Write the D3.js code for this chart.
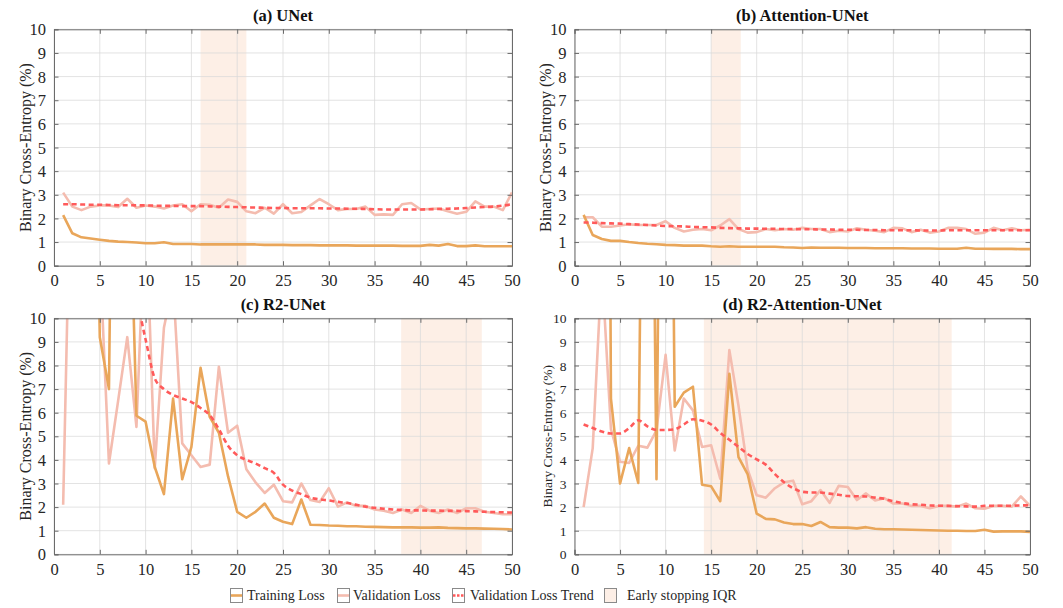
<!DOCTYPE html>
<html><head><meta charset="utf-8">
<script src="https://cdn.jsdelivr.net/npm/d3@7"></script>
<style>html,body{margin:0;padding:0;background:#fff;}svg{display:block;} svg text{font-family:'Liberation Serif','Times New Roman',Times,'DejaVu Serif',serif !important;}</style>
</head><body>
<svg id="chart" width="1063" height="608"></svg>
<script>
const epochs = d3.range(1, 51);
const xTicks = [0,5,10,15,20,25,30,35,40,45,50];
const yTicks = [0,1,2,3,4,5,6,7,8,9,10];
const titles = ["(a) UNet", "(b) Attention-UNet", "(c) R2-UNet", "(d) R2-Attention-UNet"];
const legendLabels = ["Training Loss", "Validation Loss", "Validation Loss Trend", "Early stopping IQR"];

const trainA = [2.14,1.37,1.2,1.15,1.1,1.05,1.02,1.0,0.98,0.95,0.95,0.99,0.92,0.92,0.92,0.9,0.9,0.9,0.9,0.9,0.9,0.9,0.88,0.88,0.88,0.87,0.87,0.87,0.86,0.86,0.86,0.86,0.85,0.85,0.85,0.85,0.85,0.84,0.84,0.84,0.88,0.85,0.92,0.83,0.83,0.86,0.82,0.82,0.82,0.82];
const valA = [3.09,2.5,2.35,2.5,2.55,2.55,2.48,2.83,2.45,2.55,2.5,2.42,2.55,2.6,2.3,2.6,2.58,2.45,2.8,2.7,2.3,2.22,2.45,2.2,2.6,2.22,2.27,2.55,2.82,2.6,2.35,2.4,2.4,2.5,2.15,2.17,2.15,2.6,2.65,2.38,2.4,2.42,2.3,2.2,2.28,2.72,2.5,2.5,2.35,3.1];
const trendA = [2.6,2.6,2.59,2.58,2.58,2.57,2.56,2.56,2.55,2.55,2.54,2.53,2.53,2.52,2.52,2.52,2.51,2.5,2.49,2.48,2.47,2.46,2.45,2.44,2.44,2.43,2.43,2.43,2.43,2.42,2.42,2.41,2.41,2.4,2.39,2.38,2.38,2.38,2.38,2.38,2.39,2.4,2.41,2.42,2.44,2.46,2.48,2.5,2.54,2.6];
const iqrA = [16, 21];

const trainB = [2.15,1.3,1.13,1.05,1.05,1.0,0.96,0.93,0.91,0.88,0.87,0.85,0.85,0.85,0.82,0.8,0.82,0.8,0.8,0.8,0.8,0.8,0.78,0.77,0.75,0.77,0.76,0.76,0.76,0.75,0.75,0.75,0.74,0.74,0.74,0.74,0.73,0.73,0.73,0.72,0.72,0.72,0.76,0.72,0.72,0.71,0.71,0.71,0.7,0.7];
const valB = [2.05,2.05,1.65,1.65,1.7,1.75,1.72,1.72,1.72,1.88,1.6,1.45,1.52,1.55,1.5,1.7,1.97,1.55,1.4,1.42,1.55,1.5,1.55,1.52,1.6,1.55,1.55,1.42,1.48,1.45,1.58,1.52,1.48,1.42,1.6,1.58,1.42,1.52,1.4,1.45,1.6,1.6,1.55,1.35,1.4,1.6,1.5,1.58,1.5,1.52];
const trendB = [1.83,1.82,1.8,1.79,1.78,1.76,1.74,1.72,1.7,1.68,1.67,1.66,1.64,1.63,1.62,1.6,1.59,1.58,1.57,1.57,1.56,1.56,1.55,1.55,1.54,1.54,1.53,1.53,1.52,1.52,1.52,1.51,1.51,1.5,1.5,1.5,1.5,1.49,1.49,1.49,1.5,1.5,1.5,1.5,1.5,1.5,1.5,1.5,1.5,1.5];
const iqrB = [15, 18.25];

const trainC = [60,45,35,30,9.2,7.0,40,20,5.87,5.62,3.7,2.55,6.6,3.18,4.55,7.9,5.82,5.15,3.3,1.8,1.55,1.8,2.15,1.55,1.38,1.28,2.32,1.25,1.24,1.22,1.21,1.19,1.19,1.17,1.16,1.15,1.14,1.14,1.14,1.13,1.13,1.14,1.12,1.11,1.1,1.1,1.09,1.08,1.07,1.05];
const valC = [2.1,20,25,22,12.7,3.85,6.5,9.2,5.4,15,3.65,9.6,11.5,4.7,4.2,3.7,3.8,7.95,5.15,5.45,3.6,3.05,2.6,2.95,2.25,2.2,3.0,2.3,2.22,2.8,2.02,2.2,2.05,2.05,1.9,1.85,1.75,1.9,1.75,2.05,1.85,1.75,1.9,1.75,1.95,1.95,1.8,1.75,1.7,1.7];
const trendC = [22,20,18,16.5,15,13.8,12.7,11.7,10.8,9.1,7.45,7.0,6.75,6.6,6.45,6.2,5.9,5.3,4.6,4.2,4.0,3.85,3.65,3.45,2.95,2.7,2.55,2.4,2.33,2.28,2.22,2.17,2.1,2.02,1.97,1.93,1.9,1.88,1.86,1.86,1.85,1.85,1.84,1.84,1.83,1.82,1.8,1.79,1.78,1.77];
const iqrC = [37.9, 46.7];

const trainD = [50,60,80,6.6,3.0,4.5,3.02,40,3.18,45,6.25,6.85,7.1,2.95,2.88,2.25,7.65,4.12,3.4,1.72,1.5,1.48,1.35,1.28,1.28,1.2,1.37,1.15,1.13,1.13,1.1,1.15,1.08,1.06,1.06,1.05,1.04,1.03,1.02,1.01,1.0,1.0,0.99,0.99,1.04,0.96,0.97,0.97,0.97,0.95];
const valD = [2.0,4.5,12.2,5.3,3.92,3.87,4.6,4.52,5.25,8.45,4.4,6.6,6.1,4.55,4.62,3.2,8.65,6.3,3.6,2.5,2.4,2.8,3.05,3.12,2.12,2.25,2.72,2.18,2.9,2.85,2.3,2.58,2.28,2.38,2.15,2.15,2.05,2.05,1.95,2.05,2.05,2.02,2.15,1.95,1.93,2.05,2.05,2.02,2.45,2.05];
const trendD = [5.5,5.35,5.2,5.12,5.12,5.35,5.68,5.42,5.27,5.27,5.3,5.5,5.72,5.66,5.5,5.15,4.85,4.55,4.25,4.02,3.8,3.4,3.05,2.8,2.65,2.62,2.62,2.57,2.52,2.47,2.46,2.45,2.4,2.35,2.25,2.17,2.12,2.1,2.07,2.06,2.05,2.04,2.03,2.02,2.05,2.06,2.06,2.06,2.07,2.08];
const iqrD = [14.2, 41.4];

const colTrain = "#E9A65A", colVal = "#F4BCAF", colTrend = "#FF5A5A", colIQR = "#FDEFE6";
const FONT = "'Liberation Serif','Times New Roman',Times,'DejaVu Serif',serif";

const panels = [
  {title: titles[0], train: trainA, val: valA, trend: trendA, iqr: iqrA, x0: 54, x1: 512, y0: 29.3, y1: 265.7, ytf: 16.5, ylf: 16, ylx: 25},
  {title: titles[1], train: trainB, val: valB, trend: trendB, iqr: iqrB, x0: 574.5, x1: 1030, y0: 29.3, y1: 265.7, ytf: 16.5, ylf: 16, ylx: 545},
  {title: titles[2], train: trainC, val: valC, trend: trendC, iqr: iqrC, x0: 54, x1: 512, y0: 318.3, y1: 554.3, ytf: 16.5, ylf: 16, ylx: 25},
  {title: titles[3], train: trainD, val: valD, trend: trendD, iqr: iqrD, x0: 574.5, x1: 1030, y0: 318.3, y1: 554.3, ytf: 13.5, ylf: 13.5, ylx: 547}
];

const svg = d3.select("#chart").attr("font-family", FONT);
const defs = svg.append("defs");

panels.forEach((p, i) => {
  const x = d3.scaleLinear().domain([0, 50]).range([p.x0, p.x1]);
  const y = d3.scaleLinear().domain([0, 10]).range([p.y1, p.y0]);
  const g = svg.append("g");
  const clipId = "clip" + i;
  defs.append("clipPath").attr("id", clipId).append("rect")
    .attr("x", p.x0).attr("y", p.y0).attr("width", p.x1 - p.x0).attr("height", p.y1 - p.y0);

  g.append("rect").attr("x", x(p.iqr[0])).attr("y", p.y0)
    .attr("width", x(p.iqr[1]) - x(p.iqr[0])).attr("height", p.y1 - p.y0)
    .attr("fill", colIQR);

  g.append("g").selectAll("line").data(yTicks).join("line")
    .attr("x1", p.x0).attr("x2", p.x1).attr("y1", d => y(d)).attr("y2", d => y(d))
    .attr("stroke", "#d9d9d9").attr("stroke-opacity", 0.75).attr("stroke-width", 1);
  g.append("g").selectAll("line").data(xTicks).join("line")
    .attr("y1", p.y0).attr("y2", p.y1).attr("x1", d => x(d)).attr("x2", d => x(d))
    .attr("stroke", "#d9d9d9").attr("stroke-opacity", 0.75).attr("stroke-width", 1);

  const lineGen = d3.line().x((d, j) => x(epochs[j])).y(d => y(d));
  const trendGen = d3.line().x((d, j) => x(epochs[j])).y(d => y(d)).curve(d3.curveMonotoneX);
  const lg = g.append("g").attr("clip-path", `url(#${clipId})`);
  lg.append("path").datum(p.val).attr("d", lineGen).attr("fill", "none")
    .attr("stroke", colVal).attr("stroke-width", 2.6).attr("stroke-linejoin", "round");
  lg.append("path").datum(p.train).attr("d", lineGen).attr("fill", "none")
    .attr("stroke", colTrain).attr("stroke-width", 2.6).attr("stroke-linejoin", "round");
  lg.append("path").datum(p.trend).attr("d", trendGen).attr("fill", "none")
    .attr("stroke", colTrend).attr("stroke-width", 2.6).attr("stroke-dasharray", "5,3.5");

  const axB = g.append("g").attr("transform", `translate(0,${p.y1})`)
    .call(d3.axisBottom(x).tickValues(xTicks).tickSize(-4.5).tickPadding(9).tickFormat(d3.format("d")));
  const axT = g.append("g").attr("transform", `translate(0,${p.y0})`)
    .call(d3.axisTop(x).tickValues(xTicks).tickSize(-4.5).tickFormat(""));
  const axL = g.append("g").attr("transform", `translate(${p.x0},0)`)
    .call(d3.axisLeft(y).tickValues(yTicks).tickSize(-4.5).tickPadding(8).tickFormat(d3.format("d")));
  const axR = g.append("g").attr("transform", `translate(${p.x1},0)`)
    .call(d3.axisRight(y).tickValues(yTicks).tickSize(-4.5).tickFormat(""));
  [axB, axT, axL, axR].forEach(a => {
    a.attr("font-family", FONT);
    a.select(".domain").attr("stroke", "#6b6b6b").attr("stroke-width", 1);
    a.selectAll(".tick line").attr("stroke", "#6b6b6b");
    a.selectAll("text").attr("fill", "#262626");
  });
  axB.attr("font-size", 16.5);
  axL.attr("font-size", p.ytf);
  axL.selectAll("text").attr("dy", "0.34em");

  svg.append("text").attr("x", (p.x0 + p.x1) / 2).attr("y", p.y0 - 8)
    .attr("text-anchor", "middle").attr("font-weight", "bold").attr("font-size", 16.5)
    .attr("fill", "#111").text(p.title);
  svg.append("text").attr("transform", `translate(${p.ylx},${(p.y0 + p.y1) / 2}) rotate(-90)`)
    .attr("text-anchor", "middle").attr("dy", "0.35em").attr("font-size", p.ylf)
    .attr("fill", "#262626").text("Binary Cross-Entropy (%)");
});

const legendX = [230, 337, 452, 604];
const legendTextX = [247, 353, 470, 627];
const lgd = svg.append("g");
legendLabels.forEach((lab, i) => {
  const bx = legendX[i], by = 588;
  lgd.append("rect").attr("x", bx + 0.5).attr("y", by + 0.5).attr("width", 12).attr("height", 14)
    .attr("fill", i === 3 ? colIQR : "#fff").attr("stroke", "#8a8a8a").attr("stroke-width", 1);
  if (i < 3) {
    lgd.append("line").attr("x1", bx + 1).attr("x2", bx + 12).attr("y1", by + 7.5).attr("y2", by + 7.5)
      .attr("stroke", [colTrain, colVal, colTrend][i]).attr("stroke-width", 2.6)
      .attr("stroke-dasharray", i === 2 ? "2.5,1.5" : null);
  }
  lgd.append("text").attr("x", legendTextX[i]).attr("y", by + 12).attr("font-size", 14)
    .attr("fill", "#262626").text(lab);
});
</script>
</body></html>
